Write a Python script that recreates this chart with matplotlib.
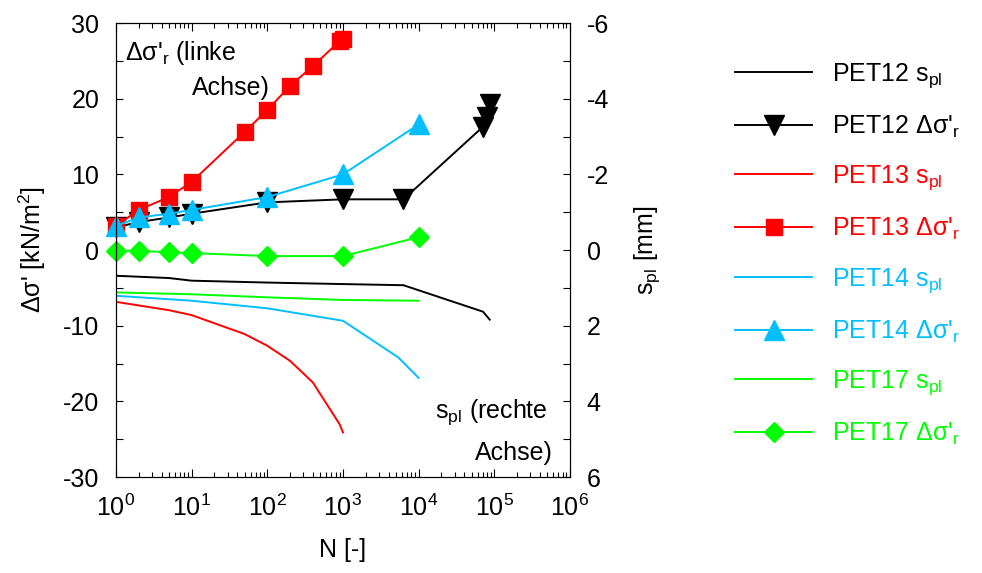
import matplotlib
matplotlib.use("Agg")
import matplotlib.pyplot as plt
from matplotlib.ticker import LogLocator, MultipleLocator, NullFormatter

plt.rcParams['font.family'] = ['Liberation Sans', 'DejaVu Sans']
plt.rcParams['mathtext.fontset'] = 'custom'
plt.rcParams['mathtext.rm'] = 'Liberation Sans'
plt.rcParams['mathtext.it'] = 'Liberation Sans'
plt.rcParams['mathtext.bf'] = 'Liberation Sans:bold'
plt.rcParams['axes.unicode_minus'] = False

# Δσ'_r (linke Achse) [kN/m²]
n12_ds = [1, 2, 5, 10, 100, 1000, 6300, 71000, 79000, 87000]
ds12 = [3.0, 3.7, 4.3, 4.8, 6.3, 6.7, 6.7, 16.3, 17.6, 19.3]
n13_ds = [1, 2, 5, 10, 50, 100, 200, 400, 900, 1000]
ds13 = [3.2, 5.3, 7.0, 9.0, 15.6, 18.5, 21.7, 24.3, 27.6, 27.9]
n14_ds = [1, 2, 5, 10, 100, 1000, 10000]
ds14 = [3.2, 4.3, 4.8, 5.3, 7.0, 10.0, 16.6]
n17_ds = [1, 2, 5, 10, 100, 1000, 10000]
ds17 = [-0.1, -0.1, -0.3, -0.4, -0.8, -0.8, 1.7]

# s_pl (rechte Achse) [mm]
n12_s = [1, 5, 10, 100, 1000, 6300, 71000, 87000]
s12 = [0.68, 0.74, 0.81, 0.86, 0.90, 0.93, 1.63, 1.84]
n13_s = [1, 5, 10, 50, 100, 200, 400, 900, 1000]
s13 = [1.37, 1.59, 1.72, 2.22, 2.53, 2.93, 3.50, 4.6, 4.82]
n14_s = [1, 10, 100, 1000, 5400, 10000]
s14 = [1.21, 1.34, 1.54, 1.87, 2.84, 3.38]
n17_s = [1, 10, 100, 1000, 10000]
s17 = [1.12, 1.17, 1.25, 1.32, 1.34]

c_black = 'black'
c_red = '#ff0000'
c_cyan = '#00bfff'
c_green = '#00ff00'

fs = 18
fig = plt.figure(figsize=(9.82, 5.73), dpi=100)
ax = fig.add_axes([0.1181, 0.1675, 0.4623, 0.7923])
ax2 = ax.twinx()

lw = 1.4
h12d, = ax.plot(n12_ds, ds12, color=c_black, lw=lw, marker='v', ms=14, clip_on=False, label="PET12 Δσ'$_{\\mathrm{r}}$")
h13d, = ax.plot(n13_ds, ds13, color=c_red, lw=lw, marker='s', ms=11.5, clip_on=False, label="PET13 Δσ'$_{\\mathrm{r}}$")
h14d, = ax.plot(n14_ds, ds14, color=c_cyan, lw=lw, marker='^', ms=14, clip_on=False, label="PET14 Δσ'$_{\\mathrm{r}}$")
h17d, = ax.plot(n17_ds, ds17, color=c_green, lw=lw, marker='D', ms=10.5, clip_on=False, label="PET17 Δσ'$_{\\mathrm{r}}$")

h12s, = ax2.plot(n12_s, s12, color=c_black, lw=lw, label="PET12 s$_{\\mathrm{pl}}$")
h13s, = ax2.plot(n13_s, s13, color=c_red, lw=lw, label="PET13 s$_{\\mathrm{pl}}$")
h14s, = ax2.plot(n14_s, s14, color=c_cyan, lw=lw, label="PET14 s$_{\\mathrm{pl}}$")
h17s, = ax2.plot(n17_s, s17, color=c_green, lw=lw, label="PET17 s$_{\\mathrm{pl}}$")

ax.set_xscale('log')
ax.set_xlim(1, 1e6)
ax.set_ylim(-30, 30)
ax2.set_ylim(6, -6)
ax.xaxis.set_major_locator(LogLocator(base=10, numticks=10))
ax.xaxis.set_minor_locator(LogLocator(base=10, subs=range(2, 10), numticks=20))
ax.xaxis.set_minor_formatter(NullFormatter())
ax.yaxis.set_major_locator(MultipleLocator(10))
ax.yaxis.set_minor_locator(MultipleLocator(5))
ax2.yaxis.set_major_locator(MultipleLocator(2))
ax2.yaxis.set_minor_locator(MultipleLocator(1))

ax.tick_params(axis='x', which='both', direction='in', top=True, labelsize=fs, pad=13)
ax.tick_params(axis='x', which='major', length=6, width=0.8)
ax.tick_params(axis='x', which='minor', length=3.5, width=0.8)
ax.tick_params(axis='y', which='both', direction='in', right=False, labelsize=fs, pad=12, length=5, width=0.8)
ax2.tick_params(axis='y', which='both', direction='in', labelsize=fs, pad=12, length=5, width=0.8)

ax.set_xlabel('N [-]', fontsize=fs, labelpad=12)
ax.set_ylabel("Δσ' [kN/m$^{2}$]", fontsize=fs, labelpad=11)
ax2.set_ylabel("s$_{\\mathrm{pl}}$ [mm]", fontsize=fs, labelpad=17)

ax.text(0.02, 0.934, "Δσ'$_{\\mathrm{r}}$ (linke", transform=ax.transAxes, fontsize=fs, ha='left', va='center')
ax.text(0.339, 0.857, "Achse)", transform=ax.transAxes, fontsize=fs, ha='right', va='center')
ax.text(0.952, 0.143, "s$_{\\mathrm{pl}}$ (rechte", transform=ax.transAxes, fontsize=fs, ha='right', va='center')
ax.text(0.963, 0.053, "Achse)", transform=ax.transAxes, fontsize=fs, ha='right', va='center')

handles = [h12s, h12d, h13s, h13d, h14s, h14d, h17s, h17d]
fig.legend(handles=handles, loc='upper left', bbox_to_anchor=(0.7485, 0.893),
           frameon=False, fontsize=fs, handlelength=3.08, handletextpad=0.8,
           labelspacing=0.95, borderpad=0, borderaxespad=0, labelcolor='linecolor')

fig.savefig('out.png', dpi=100)
